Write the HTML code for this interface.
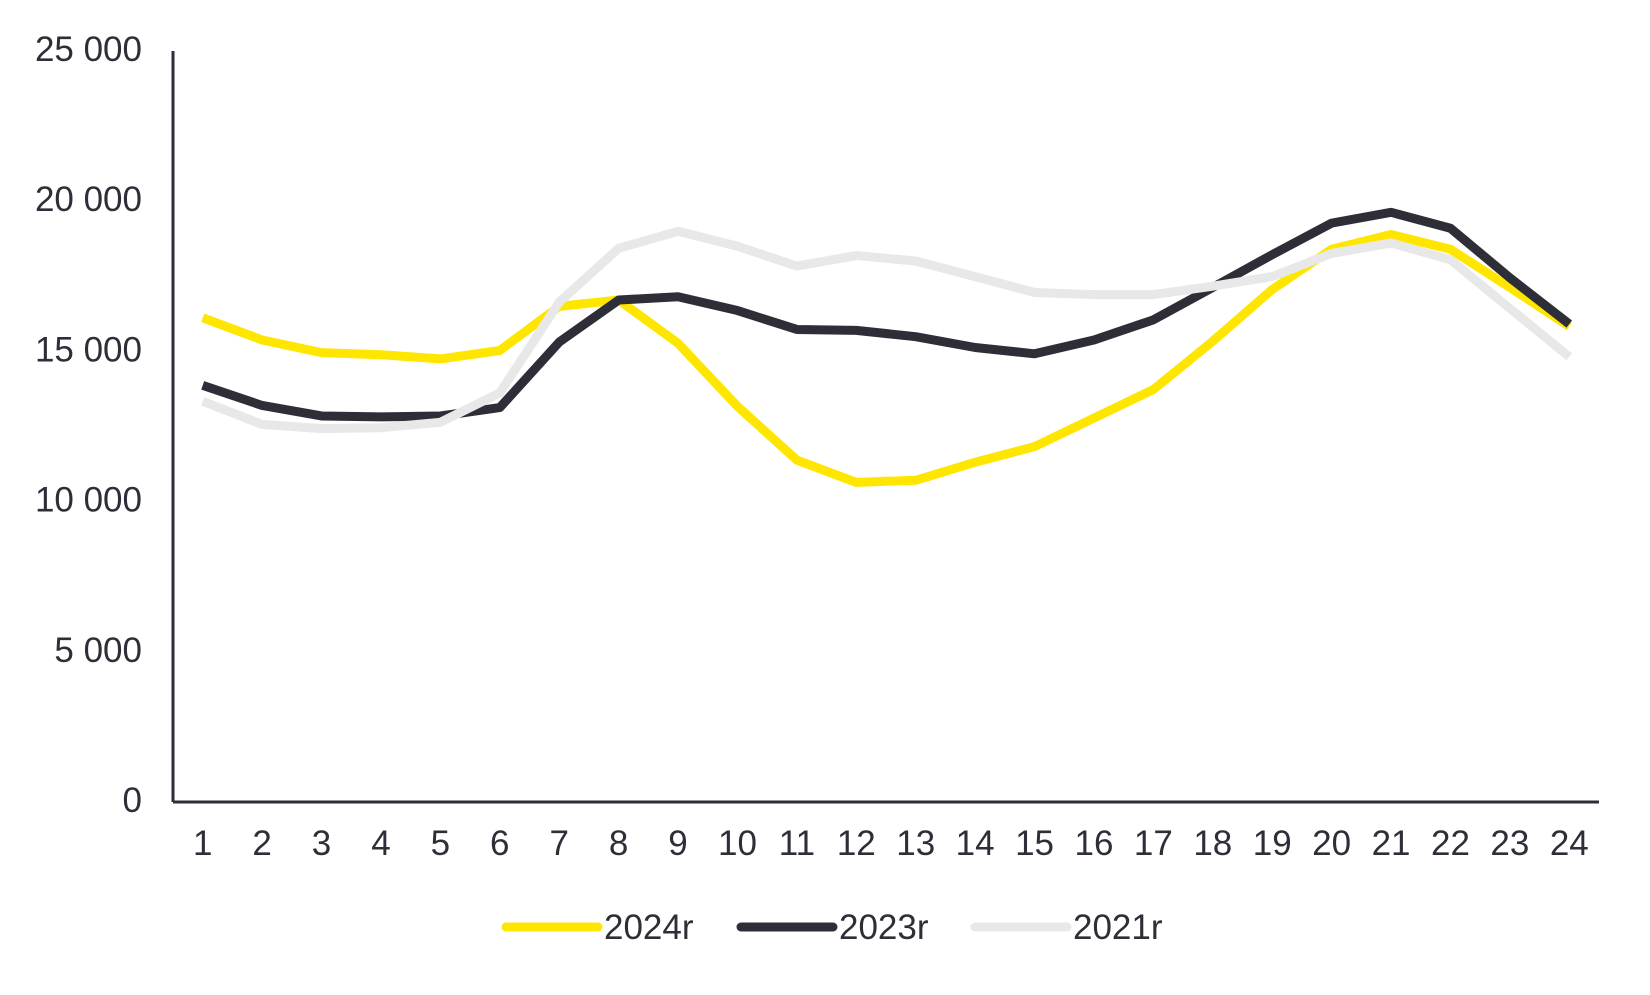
<!DOCTYPE html>
<html><head><meta charset="utf-8"><style>
body{margin:0;background:#fff;}
svg text{font-family:"Liberation Sans",Arial,sans-serif;fill:#2e2e38;font-size:35px;}
</style></head><body>
<svg id="s" width="1650" height="990" viewBox="0 0 1650 990" xmlns="http://www.w3.org/2000/svg"></svg>
<script>
const s=document.getElementById('s');
const NS='http://www.w3.org/2000/svg';
function el(t,a,txt){const e=document.createElementNS(NS,t);for(const k in a)e.setAttribute(k,a[k]);if(txt!==undefined)e.textContent=txt;s.appendChild(e);return e;}
const x0=173,x1=1599,yb=802,yt=51;
const X=i=>x0+(x1-x0)/24*(i-0.5);
const Y=v=>yb-(yb-yt)*v/25000;
const d24=[16120,15380,14960,14890,14750,15030,16500,16710,15270,13170,11380,10640,10710,11310,11830,12780,13730,15340,17060,18400,18890,18400,17130,15830];
const d23=[13870,13200,12850,12820,12850,13130,15310,16710,16820,16360,15730,15700,15490,15130,14920,15380,16050,17130,18220,19270,19630,19100,17450,15910];
const d21=[13340,12570,12430,12460,12640,13620,16640,18430,19000,18500,17840,18190,18010,17490,16960,16890,16890,17170,17490,18260,18610,18050,16430,14820];
for(let k=0;k<=5;k++){el('text',{x:142,y:Y(k*5000)+10,'text-anchor':'end'},k===0?'0':(k*5)+' 000');}
for(let i=1;i<=24;i++)el('text',{x:X(i),y:855,'text-anchor':'middle'},String(i));
[[d24,'#ffe600'],[d23,'#2e2e38'],[d21,'#e8e8e8']].forEach(([d,c])=>{
el('polyline',{points:d.map((v,i)=>X(i+1)+','+Y(v)).join(' '),fill:'none',stroke:c,'stroke-width':9,'stroke-linejoin':'round'});});
el('line',{x1:x0,y1:yt,x2:x0,y2:yb,stroke:'#2e2e38','stroke-width':3});
el('line',{x1:x0,y1:yb,x2:x1,y2:yb,stroke:'#2e2e38','stroke-width':3});
[[506,'#ffe600','2024r'],[741,'#2e2e38','2023r'],[975,'#e8e8e8','2021r']].forEach(([x,c,t])=>{
el('line',{x1:x,y1:927,x2:x+92,y2:927,stroke:c,'stroke-width':9,'stroke-linecap':'round'});
el('text',{x:x+98,y:939},t);});
</script>
</body></html>
